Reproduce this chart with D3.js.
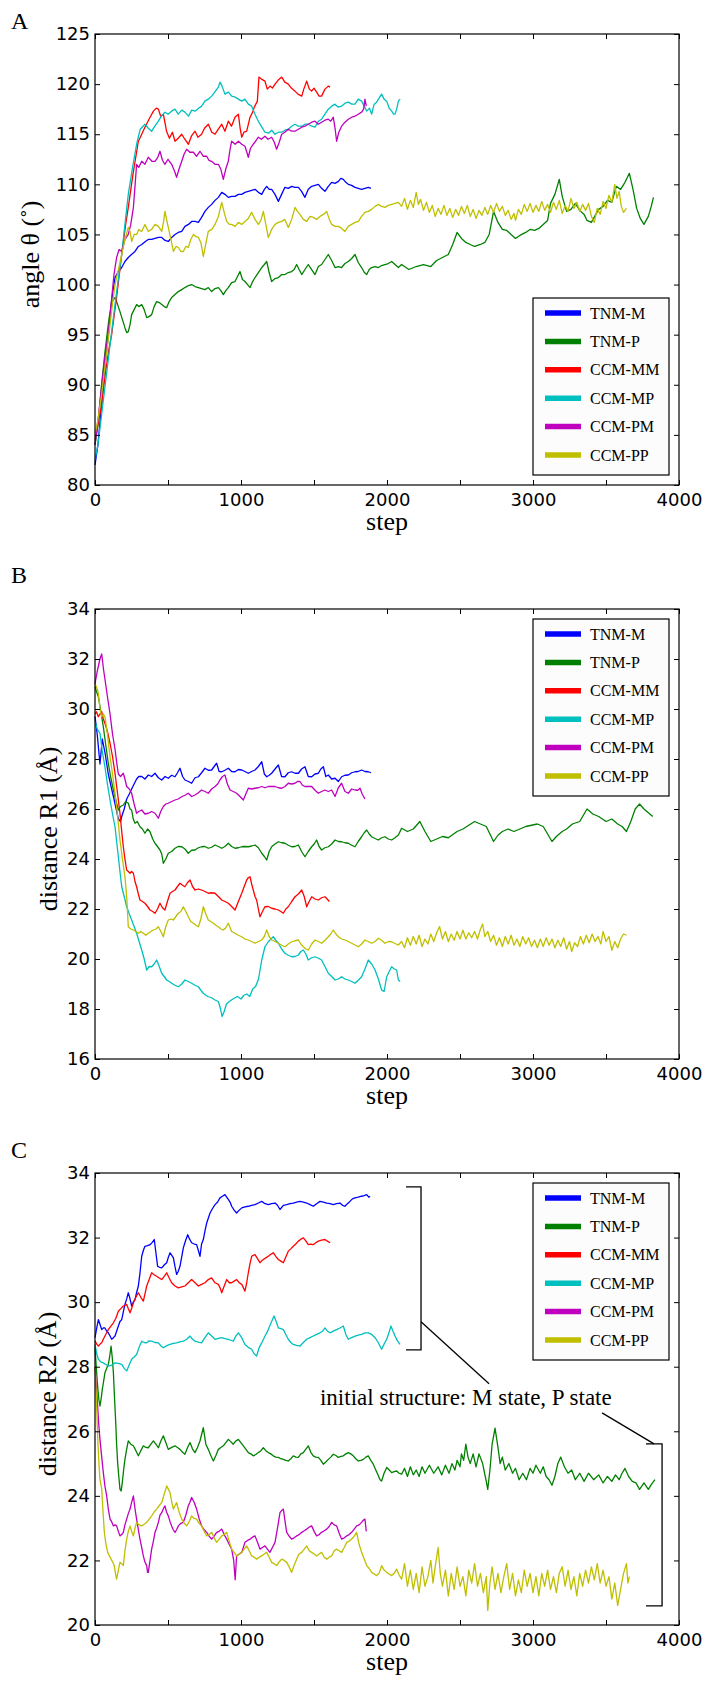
<!DOCTYPE html>
<html><head><meta charset="utf-8">
<script src="https://cdn.jsdelivr.net/npm/d3@7"></script>
<style>body{margin:0;background:#fff}svg{display:block}</style>
</head><body>
<svg id="chart" width="713" height="1686"></svg>
<script>
// ---------------- DATA ----------------
const seriesNames = ["TNM-M","TNM-P","CCM-MM","CCM-MP","CCM-PM","CCM-PP"];
const stepTicks = [0,500,1000,1500,2000,2500,3000,3500,4000];
const stepTickLabels = ["0","","1000","","2000","","3000","","4000"];
const angleTicks = [80,85,90,95,100,105,110,115,120,125];
const r1Ticks = [16,18,20,22,24,26,28,30,32,34];
const r2Ticks = [20,22,24,26,28,30,32,34];

// Panel A: angle theta
const angle_TNM_M = [[0,82],[20,84],[45,88],[70,92],[95,95.5],[115,98.5],[137,100.7],[160,101.3],[183,101.7],[205,102.3],[228,102.7],[250,103],[274,103.3],[297,103.8],[320,104],[345,104.3],[365,104.5],[388,104.5],[411,104.6],[434,104.7],[457,104.7],[480,104.4],[502,104.3],[525,104.7],[548,105],[570,105.2],[594,105.3],[616,105.8],[640,106],[662,106.3],[685,106.3],[708,106.2],[730,106.7],[753,107.3],[776,107.7],[799,108],[822,108.4],[845,108.7],[868,109.2],[890,109],[913,108.7],[936,108.8],[959,108.8],[982,109],[1005,109],[1027,109.2],[1050,109.3],[1073,109.4],[1096,109.5],[1119,109.2],[1142,109],[1160,109.5],[1176,109.8],[1193,109.5],[1210,109.5],[1233,109],[1256,108.3],[1278,109],[1301,109.7],[1324,109.6],[1347,109.8],[1370,109.7],[1393,109.7],[1415,109.3],[1438,108.7],[1461,109.5],[1484,109.8],[1507,109.9],[1530,110],[1552,109.6],[1575,109.3],[1598,109.8],[1621,110.2],[1644,110.1],[1667,110.3],[1684,110.6],[1701,110.5],[1718,110.2],[1735,110],[1758,109.9],[1781,109.7],[1803,109.6],[1826,109.5],[1849,109.6],[1872,109.7],[1890,109.6]];
const angle_TNM_P = [[0,84],[20,86],[45,90],[70,93.5],[95,96.5],[115,98.3],[137,98.7],[155,98],[171,97.3],[188,96.5],[205,95.7],[218,95.2],[228,95.3],[240,96],[251,97],[268,97.5],[285,98],[300,97.8],[320,98],[337,97.5],[354,96.7],[370,96.8],[388,97],[405,97.8],[422,98.3],[440,98.2],[457,98],[474,97.8],[491,97.7],[508,98.3],[525,98.7],[548,99],[571,99.3],[594,99.5],[616,99.7],[640,99.9],[662,100],[685,99.8],[708,99.7],[730,99.6],[753,99.5],[776,99.7],[799,99.3],[822,99.6],[845,99.7],[862,99.4],[879,99],[896,99.4],[913,99.7],[936,100.2],[959,100.3],[976,100.8],[993,101.3],[1010,100.5],[1027,100.3],[1045,100],[1062,99.7],[1080,100.3],[1096,100.7],[1119,101.2],[1142,101.7],[1160,102],[1176,102.3],[1193,101.2],[1210,100.3],[1233,100.6],[1256,100.7],[1279,101],[1301,101],[1324,101.2],[1347,101.3],[1364,101.5],[1381,102],[1398,101.5],[1416,101],[1438,101.5],[1461,102],[1484,101.5],[1507,101],[1530,101.8],[1552,102],[1575,102.5],[1598,103],[1621,102.4],[1644,101.7],[1667,101.8],[1689,101.7],[1712,102.1],[1735,102.3],[1758,102.6],[1781,103],[1803,102.2],[1826,101.7],[1845,101.2],[1861,101],[1878,101.5],[1895,101.7],[1918,101.8],[1941,101.7],[1963,101.9],[1986,102],[2009,102.1],[2032,102.3],[2055,102],[2078,101.7],[2100,102],[2150,101.5],[2200,101.8],[2250,102],[2300,101.8],[2340,102.4],[2380,102.7],[2420,103],[2450,104],[2480,105.2],[2510,104.6],[2540,104.2],[2570,104],[2600,103.8],[2640,104],[2670,104.2],[2700,105],[2730,107.3],[2760,106.2],[2790,105.5],[2820,105.4],[2850,105],[2880,104.6],[2910,104.9],[2950,105.2],[2980,105.5],[3010,105.4],[3040,105.6],[3070,106],[3100,106.4],[3120,108.1],[3150,109],[3180,110.5],[3200,108.8],[3230,107.3],[3260,107.5],[3290,108.1],[3320,107.4],[3350,107],[3370,106.4],[3400,106.2],[3430,107],[3450,107.5],[3480,107.8],[3510,108.4],[3540,108.2],[3570,109.8],[3600,109.5],[3630,110.2],[3660,111.1],[3685,109.5],[3710,107.6],[3735,106.6],[3760,106],[3790,106.8],[3810,107.8],[3825,108.7]];
const angle_CCM_MM = [[0,84.5],[20,86],[45,88],[70,91],[95,93.5],[114,95],[150,99],[183,103],[210,106],[228,107.7],[260,111],[297,114.3],[320,115],[342,115.7],[370,116.5],[400,117.3],[420,117.6],[434,117.5],[450,116.8],[468,117],[490,115.3],[510,114.6],[530,115.2],[548,114.3],[570,114.6],[594,115],[615,114.5],[640,114],[660,114.8],[685,115.3],[705,114.7],[730,115],[750,115.6],[776,116],[800,115.2],[822,115],[845,115.5],[868,116],[890,115.3],[913,116.3],[935,115.8],[959,116.7],[982,117],[995,115.5],[1005,114.7],[1020,115.2],[1039,115.3],[1062,116.7],[1080,117.2],[1091,117.7],[1112,118.3],[1123,120.7],[1140,120.5],[1164,120.3],[1180,119.5],[1199,119.8],[1215,119.6],[1233,120],[1255,120.4],[1279,120.7],[1300,120.2],[1324,120],[1345,119.6],[1370,119.3],[1390,119],[1416,118.8],[1430,119.5],[1450,120.3],[1468,119.5],[1484,119.3],[1500,119.6],[1518,119.2],[1535,118.8],[1552,118.8],[1575,119.5],[1598,119.8],[1610,119.7]];
const angle_CCM_MP = [[0,82.5],[20,84],[45,87],[70,90],[95,93],[120,96],[150,99.5],[183,103],[205,106],[228,109],[255,111.5],[285,114],[310,115.5],[342,116],[365,115.6],[388,115.3],[410,115.8],[434,116.3],[455,116.8],[479,117.2],[500,117],[525,117.3],[548,117.5],[570,117],[594,117.4],[616,117.2],[640,116.8],[662,117.4],[685,117.3],[710,117.6],[730,117.8],[753,118.3],[776,118.5],[799,118.8],[825,119.3],[845,119.7],[856,120.2],[870,119.8],[890,119],[913,119.2],[936,118.8],[960,118.7],[982,118.5],[1005,118.3],[1027,118.5],[1050,118],[1073,117.8],[1096,117],[1112,116.5],[1130,116],[1147,115.6],[1164,115.2],[1190,115.1],[1210,115.4],[1233,115],[1256,115.2],[1279,115.2],[1301,115.4],[1324,115.5],[1347,115.8],[1370,116],[1393,115.8],[1416,115.8],[1438,116],[1461,116],[1484,115.8],[1507,115.7],[1530,116.3],[1552,116.5],[1575,117],[1598,117.5],[1621,117.8],[1644,118],[1666,117.7],[1689,117.8],[1712,118.1],[1735,118.2],[1758,118],[1781,118],[1803,118.5],[1826,118.3],[1845,117.8],[1861,117.3],[1880,117.6],[1895,117],[1912,118],[1929,118.2],[1946,118.6],[1963,119],[1980,118.5],[1998,118.3],[2015,117.6],[2032,117.3],[2045,117],[2055,117],[2068,117.6],[2078,118.3],[2090,118.5]];
const angle_CCM_PM = [[0,84],[25,87],[50,90.5],[70,93],[91,95],[110,98],[130,101],[148,102.7],[165,103.5],[183,103.3],[205,104.5],[228,105],[245,106],[263,107.7],[275,110],[285,112],[300,111.7],[320,112.3],[342,112],[365,112.7],[390,112.3],[411,112.3],[430,112.7],[445,113.3],[462,112.4],[479,112],[500,112.5],[525,112],[545,111.3],[559,110.7],[575,111.5],[594,112.3],[610,113],[628,113.5],[650,113.2],[674,113.2],[695,112.8],[719,113.3],[742,112.8],[765,112.8],[780,112.4],[799,112.3],[822,112],[845,112],[862,111.5],[879,110.5],[895,111.5],[913,112.3],[925,113.5],[936,114.3],[960,114],[982,114.3],[1005,114],[1027,113.8],[1040,113.2],[1050,112.7],[1065,113.6],[1084,114],[1100,114.3],[1119,114.7],[1140,114.5],[1164,114.8],[1185,114.5],[1210,114.7],[1228,114.2],[1244,113.5],[1262,114.2],[1279,115],[1300,115.2],[1324,115.5],[1347,115.3],[1370,115.3],[1393,115.5],[1416,115.7],[1438,115.8],[1461,116],[1484,116.2],[1507,116.3],[1530,116],[1552,116.2],[1575,116.4],[1598,116.5],[1615,116.3],[1632,116.7],[1645,115.5],[1655,114.3],[1670,115.2],[1689,115.8],[1712,116.2],[1735,116.5],[1758,116.7],[1781,116.8],[1803,117],[1826,117.2],[1840,117.5],[1849,118.5],[1858,117.8]];
const angle_CCM_PP = [[0,85],[20,86.5],[45,89],[70,92],[95,95],[115,97.5],[137,100],[160,101.5],[183,103],[205,104.5],[228,105.7],[240,105.3],[251,104.3],[268,105],[285,105],[300,105.5],[320,105.3],[342,106],[365,105.3],[388,105.5],[411,106],[434,105.8],[457,105.3],[470,106.3],[479,107.3],[490,106.5],[502,105.7],[520,104.5],[537,103.3],[555,103.8],[571,103.7],[588,103.3],[605,103.3],[622,103.8],[639,103.7],[656,104.5],[674,105],[690,104.8],[708,104.7],[725,104.2],[742,102.8],[758,104],[776,105.3],[800,105.5],[822,106],[845,106.8],[868,108.2],[885,107.2],[902,106.3],[920,106],[936,106],[960,105.8],[982,106.2],[1005,106],[1027,106.3],[1050,106.6],[1073,107.2],[1096,106.5],[1119,106],[1136,106.4],[1153,107.3],[1170,106],[1187,104.7],[1210,105.5],[1233,106],[1256,106.2],[1279,106.3],[1300,106.5],[1324,105.7],[1347,106.5],[1370,107.7],[1387,107.3],[1404,107],[1427,106.5],[1450,106.3],[1473,106.8],[1495,106.7],[1518,106.5],[1541,106.8],[1564,107],[1587,107.3],[1605,106.5],[1621,106],[1644,105.8],[1667,105.8],[1690,105.6],[1712,105.3],[1735,105.8],[1758,106],[1781,106.2],[1804,106.3],[1826,106.8],[1849,107.2],[1872,107.3],[1895,107.5],[1918,107.8],[1941,108],[1963,107.8],[1986,107.7],[2009,107.9],[2032,108],[2055,108.1],[2078,108.2],[2100,107.8],[2120,108.6],[2140,107.5],[2160,108.4],[2180,107.7],[2200,109.2],[2215,108],[2230,108.5],[2250,107.4],[2270,108.2],[2290,107.2],[2310,107.9],[2330,106.8],[2350,107.6],[2370,107],[2390,107.9],[2410,106.9],[2430,107.6],[2450,106.7],[2470,107.5],[2490,106.9],[2510,107.8],[2530,107.1],[2550,107.9],[2570,106.8],[2590,107.5],[2610,106.6],[2630,107.4],[2650,106.9],[2670,107.7],[2690,107.0],[2710,107.9],[2730,107.2],[2750,108.1],[2770,107.3],[2790,107.8],[2810,106.9],[2830,107.4],[2850,106.5],[2870,107.1],[2880,106.4],[2900,107.5],[2920,107],[2940,108.0],[2960,107.3],[2980,108.1],[3000,107.2],[3020,107.9],[3040,107.3],[3060,108.3],[3080,107.4],[3100,108],[3120,107.2],[3140,108.2],[3160,107.5],[3180,108.4],[3200,107.1],[3220,107.9],[3240,107.3],[3260,108.6],[3280,107.6],[3300,108.2],[3320,107.3],[3340,108],[3360,107.4],[3380,108.1],[3400,106.8],[3420,106.2],[3440,107.6],[3460,107],[3480,108.3],[3500,107.6],[3520,108.9],[3540,108.2],[3560,110],[3575,108.6],[3590,109.3],[3605,107.8],[3620,107.2],[3640,107.6]];

// Panel B: distance R1
const r1_TNM_M = [[0,29.7],[15,29],[34,27.8],[50,28.8],[70,28.2],[91,27.4],[110,26.9],[126,26.5],[145,26],[160,25.6],[175,25.5],[183,25.7],[200,26],[217,26.4],[235,26.6],[251,26.8],[268,27],[285,27.2],[300,27.3],[320,27.3],[342,27.2],[365,27.36],[388,27.3],[411,27.43],[434,27.25],[457,27.16],[480,27.3],[502,27.23],[525,27.35],[548,27.29],[565,27.45],[582,27.63],[600,27.3],[616,27.16],[640,27.1],[662,27.03],[685,27.25],[708,27.29],[730,27.45],[753,27.63],[776,27.55],[799,27.56],[816,27.7],[833,27.83],[850,27.5],[868,27.49],[890,27.55],[913,27.63],[936,27.5],[959,27.49],[982,27.58],[1005,27.56],[1027,27.5],[1050,27.43],[1073,27.5],[1096,27.56],[1119,27.7],[1142,27.89],[1160,27.4],[1176,27.29],[1193,27.35],[1210,27.43],[1233,27.6],[1256,27.76],[1278,27.3],[1301,27.29],[1324,27.45],[1347,27.49],[1370,27.43],[1393,27.43],[1415,27.6],[1438,27.69],[1461,27.3],[1484,27.29],[1507,27.4],[1530,27.43],[1547,27.6],[1564,27.69],[1581,27.3],[1598,27.36],[1621,27.2],[1644,27.23],[1667,27.1],[1689,27.29],[1712,27.35],[1735,27.36],[1758,27.45],[1781,27.49],[1803,27.5],[1826,27.56],[1849,27.5],[1872,27.49],[1890,27.45]];
const r1_TNM_P = [[0,30.9],[10,30.7],[23,30.49],[40,29.9],[57,29.29],[75,28.5],[91,27.83],[110,27.2],[126,26.76],[145,26.3],[160,25.96],[175,26.1],[194,26.16],[210,26.3],[228,26.23],[240,26],[251,25.96],[262,25.6],[274,25.43],[290,25.5],[308,25.29],[325,25.2],[342,25.03],[360,25.2],[377,25.09],[395,24.8],[411,24.63],[428,24.5],[445,24.36],[457,24.2],[468,23.83],[485,24],[502,24.23],[525,24.3],[548,24.43],[570,24.5],[594,24.49],[616,24.4],[639,24.23],[662,24.35],[685,24.36],[708,24.45],[730,24.49],[753,24.5],[776,24.43],[799,24.47],[822,24.56],[845,24.5],[868,24.43],[890,24.5],[913,24.63],[936,24.5],[959,24.43],[982,24.45],[1005,24.49],[1027,24.5],[1050,24.49],[1073,24.52],[1096,24.56],[1119,24.45],[1142,24.23],[1160,24.1],[1176,23.96],[1193,24.3],[1210,24.49],[1233,24.6],[1256,24.69],[1278,24.65],[1301,24.63],[1324,24.55],[1347,24.49],[1370,24.5],[1393,24.56],[1415,24.3],[1438,24.09],[1461,24.3],[1484,24.49],[1501,24.6],[1518,24.76],[1535,24.5],[1552,24.36],[1575,24.45],[1598,24.49],[1621,24.6],[1644,24.76],[1667,24.7],[1689,24.69],[1712,24.65],[1735,24.63],[1758,24.55],[1781,24.49],[1803,24.7],[1826,24.89],[1844,25.05],[1861,25.16],[1878,25],[1895,24.89],[1918,24.82],[1941,24.76],[1963,24.85],[1986,24.89],[2009,24.8],[2032,24.76],[2055,24.85],[2078,24.96],[2100,25.23],[2140,25.1],[2180,25.2],[2225,25.5],[2260,25.1],[2300,24.7],[2340,24.8],[2380,24.9],[2420,24.85],[2480,25.1],[2520,25.2],[2560,25.35],[2600,25.5],[2640,25.4],[2680,25.3],[2730,24.7],[2760,24.95],[2790,25.1],[2830,25.2],[2870,25.1],[2910,25.2],[2950,25.3],[2990,25.35],[3030,25.4],[3070,25.3],[3100,25],[3130,24.7],[3160,24.9],[3200,25.1],[3230,25.2],[3270,25.4],[3320,25.5],[3370,26],[3410,25.8],[3450,25.7],[3500,25.5],[3540,25.6],[3580,25.4],[3610,25.3],[3640,25.1],[3670,25.5],[3700,26],[3730,26.2],[3760,26],[3790,25.85],[3820,25.7]];
const r1_CCM_MM = [[0,29.8],[10,29.89],[23,29.69],[34,29.8],[46,29.89],[57,29.6],[68,29.43],[85,29.1],[103,28.63],[120,28.1],[137,27.43],[155,26.6],[171,25.83],[183,25.1],[194,24.49],[205,24],[217,23.56],[228,23.5],[240,23.43],[251,23.5],[263,23.43],[274,23.1],[285,22.89],[297,22.6],[308,22.36],[325,22.3],[342,22.23],[360,22.1],[377,21.96],[395,21.9],[411,21.83],[428,22],[445,22.23],[462,22.05],[479,21.96],[496,22.3],[514,22.63],[531,22.7],[548,22.76],[565,22.9],[582,23.03],[600,22.95],[616,22.89],[633,23.05],[651,23.16],[668,22.9],[685,22.76],[708,22.8],[730,22.76],[753,22.7],[776,22.63],[799,22.65],[822,22.63],[845,22.5],[868,22.36],[890,22.3],[913,22.23],[936,22.1],[959,21.96],[982,22.3],[1005,22.63],[1022,22.9],[1039,23.16],[1050,23.25],[1062,23.29],[1073,23],[1084,22.76],[1096,22.5],[1107,22.36],[1119,22],[1130,21.69],[1147,21.9],[1164,22.09],[1187,22.1],[1210,22.03],[1233,22],[1256,21.96],[1273,21.9],[1290,21.83],[1307,22],[1324,22.09],[1347,22.3],[1370,22.49],[1393,22.6],[1416,22.76],[1433,22.5],[1450,22.09],[1467,22.3],[1484,22.49],[1507,22.4],[1530,22.36],[1552,22.45],[1575,22.49],[1590,22.4],[1605,22.3]];
const r1_CCM_MP = [[0,29.5],[15,29.2],[34,29.03],[50,28.3],[68,27.69],[85,27],[103,26.36],[120,25.8],[137,25.29],[150,24.6],[160,24.09],[171,23.5],[183,22.89],[200,22.5],[217,22.09],[235,21.8],[251,21.56],[268,21.3],[285,21.03],[302,20.7],[320,20.36],[337,20],[354,19.56],[371,19.7],[388,19.69],[405,19.8],[422,19.96],[440,19.7],[457,19.43],[474,19.3],[491,19.16],[508,19.1],[525,19.03],[548,18.95],[571,18.89],[594,19],[616,19.16],[639,19.1],[662,19.03],[685,18.95],[708,18.89],[725,18.75],[742,18.63],[759,18.55],[776,18.49],[799,18.45],[822,18.36],[845,18.3],[860,18],[870,17.7],[885,17.9],[900,18.2],[920,18.3],[945,18.4],[975,18.5],[1000,18.4],[1020,18.55],[1040,18.6],[1060,18.5],[1080,18.8],[1100,18.9],[1120,19.2],[1142,19.96],[1164,20.49],[1187,20.69],[1205,20.8],[1221,20.89],[1238,20.75],[1256,20.63],[1278,20.4],[1301,20.23],[1324,20.15],[1347,20.09],[1370,20.1],[1393,20.16],[1410,20.3],[1427,20.36],[1444,20.2],[1461,19.96],[1484,20.05],[1507,20.09],[1530,20.03],[1552,19.96],[1575,19.7],[1598,19.43],[1621,19.3],[1644,19.16],[1667,19.2],[1689,19.29],[1712,19.2],[1735,19.16],[1758,19.1],[1781,19.03],[1803,19.15],[1826,19.29],[1849,19.6],[1872,19.96],[1895,19.8],[1918,19.56],[1941,19.2],[1963,18.76],[1980,18.7],[1998,19.29],[2015,19.5],[2032,19.69],[2050,19.6],[2066,19.56],[2078,19.16],[2090,19.1]];
const r1_CCM_PM = [[0,31],[15,31.5],[34,32],[46,32.2],[58,31.6],[68,31.2],[85,30.5],[103,29.8],[120,29],[137,28.4],[150,27.8],[160,27.4],[175,27.3],[194,27.43],[205,27.2],[217,26.9],[235,26.8],[251,26.63],[268,26.2],[285,25.83],[300,25.9],[320,25.96],[342,25.8],[365,25.83],[388,25.9],[411,25.83],[434,25.63],[450,25.9],[468,26.1],[485,26.2],[502,26.23],[525,26.3],[548,26.36],[570,26.4],[594,26.49],[616,26.55],[639,26.63],[662,26.5],[685,26.56],[708,26.65],[730,26.76],[753,26.7],[776,26.63],[799,26.8],[822,26.9],[840,27],[856,27.16],[873,27.3],[890,27.36],[907,27],[925,26.76],[947,26.7],[970,26.63],[993,26.5],[1016,26.36],[1033,26.6],[1050,26.83],[1073,26.8],[1096,26.83],[1119,26.85],[1142,26.9],[1165,26.85],[1187,26.9],[1210,26.9],[1233,26.9],[1256,26.85],[1279,26.83],[1301,26.9],[1324,27.03],[1347,27],[1370,27.03],[1387,27.1],[1404,27.1],[1421,26.95],[1438,26.9],[1461,26.9],[1484,26.9],[1507,26.75],[1530,26.63],[1552,26.7],[1575,26.76],[1598,26.7],[1621,26.76],[1644,26.5],[1667,26.85],[1689,27.03],[1712,26.7],[1735,26.63],[1758,26.8],[1781,26.76],[1800,26.75],[1815,26.83],[1830,26.6],[1849,26.4]];
const r1_CCM_PP = [[0,31],[10,30.89],[23,30.63],[34,30],[46,29.69],[57,29.8],[68,29.69],[85,29],[103,28.09],[120,27.4],[137,26.63],[155,25.7],[171,24.76],[188,24],[205,23.29],[217,22.5],[228,21.29],[245,21.2],[263,21.16],[280,21.1],[297,21.03],[314,21.1],[331,21.03],[348,20.95],[365,21.03],[383,21.1],[400,21.16],[417,21.2],[434,21.29],[451,21.1],[468,20.89],[485,21.3],[502,21.56],[520,21.6],[537,21.56],[554,21.7],[571,21.83],[588,21.9],[605,22.09],[622,21.9],[639,21.69],[656,21.5],[674,21.43],[691,21.35],[708,21.29],[725,21.6],[742,22.09],[759,21.8],[776,21.56],[793,21.5],[811,21.43],[828,21.35],[845,21.29],[862,21.2],[879,21.16],[896,21.25],[913,21.43],[936,21.1],[959,21.03],[982,20.95],[1005,20.89],[1027,20.8],[1050,20.76],[1073,20.7],[1096,20.63],[1119,20.7],[1142,20.76],[1160,20.9],[1176,21.16],[1193,20.9],[1210,20.76],[1233,20.7],[1256,20.63],[1279,20.55],[1301,20.49],[1324,20.6],[1347,20.69],[1370,20.73],[1393,20.76],[1410,20.6],[1427,20.49],[1444,20.4],[1461,20.36],[1484,20.6],[1507,20.76],[1530,20.7],[1552,20.63],[1575,20.75],[1598,20.89],[1615,21],[1632,21.16],[1650,21],[1667,20.89],[1690,20.8],[1712,20.76],[1735,20.7],[1758,20.63],[1781,20.56],[1804,20.49],[1826,20.6],[1849,20.76],[1872,20.7],[1895,20.63],[1918,20.7],[1941,20.83],[1963,20.75],[1986,20.63],[2009,20.7],[2032,20.69],[2055,20.62],[2078,20.56],[2100,20.7],[2120,20.45],[2140,20.85],[2160,20.55],[2180,20.9],[2200,20.6],[2220,20.95],[2240,20.5],[2260,20.8],[2280,20.6],[2300,21.0],[2320,20.7],[2340,21.05],[2360,21.3],[2380,20.8],[2400,21.1],[2420,20.7],[2440,21.0],[2460,20.75],[2480,21.1],[2500,20.8],[2520,21.15],[2540,20.8],[2560,21.05],[2580,20.85],[2600,21.1],[2620,20.8],[2640,21.2],[2655,21.4],[2670,20.9],[2690,21.1],[2710,20.7],[2730,20.95],[2750,20.55],[2770,20.85],[2790,20.5],[2810,20.9],[2830,20.6],[2850,20.95],[2870,20.55],[2890,20.8],[2910,20.5],[2930,20.9],[2950,20.6],[2970,20.85],[2990,20.5],[3010,20.75],[3030,20.45],[3050,20.8],[3070,20.5],[3090,20.85],[3110,20.55],[3130,20.8],[3150,20.45],[3170,20.75],[3190,20.5],[3210,20.85],[3230,20.4],[3250,20.7],[3265,20.3],[3285,20.65],[3305,20.5],[3325,20.9],[3345,20.6],[3365,20.95],[3385,20.65],[3405,21.0],[3425,20.7],[3445,20.9],[3465,20.6],[3480,21.1],[3500,20.7],[3520,20.9],[3540,20.35],[3560,20.7],[3580,20.45],[3600,20.8],[3620,21.0],[3640,20.95]];

// Panel C: distance R2
const r2_TNM_M = [[0,28.9],[12,29.2],[23,29.46],[35,29.3],[46,29.15],[57,29.2],[68,29.2],[80,29.1],[91,29.05],[103,28.95],[114,28.85],[126,28.9],[137,28.95],[148,29.1],[160,29.26],[171,29.4],[183,29.46],[194,29.7],[205,29.93],[217,30.1],[228,30.29],[240,30.1],[251,29.88],[262,30],[274,30.08],[285,30.3],[297,30.5],[308,30.9],[320,31.42],[331,31.6],[342,31.73],[360,31.75],[377,31.78],[392,31.85],[406,31.94],[418,31.5],[429,31.11],[443,31.08],[457,31.06],[474,31.15],[491,31.22],[503,31.4],[514,31.53],[526,31.45],[537,31.37],[548,31.1],[559,30.86],[570,30.95],[582,31.11],[594,31.4],[605,31.68],[620,31.9],[635,32.09],[648,31.95],[662,31.84],[680,31.8],[696,31.78],[708,31.6],[719,31.42],[730,31.8],[742,31.94],[753,32.2],[765,32.45],[776,32.6],[788,32.76],[805,32.9],[822,33.02],[840,33.1],[856,33.23],[873,33.28],[890,33.33],[902,33.25],[913,33.18],[925,33.1],[936,32.97],[953,32.85],[970,32.76],[988,32.85],[1005,32.92],[1027,32.95],[1050,32.97],[1073,33],[1096,33.02],[1119,33.07],[1142,33.12],[1165,33.05],[1187,33.02],[1210,33.05],[1233,33.07],[1250,33],[1267,32.87],[1290,33],[1313,33.02],[1336,33.05],[1358,33.07],[1381,33.1],[1404,33.12],[1427,33.1],[1450,33.07],[1473,33.02],[1495,32.97],[1518,33.05],[1541,33.12],[1564,33.1],[1587,33.07],[1610,33.05],[1632,33.02],[1655,33.05],[1678,33.07],[1695,33.0],[1712,32.97],[1729,33.05],[1746,33.12],[1763,33.2],[1781,33.23],[1803,33.25],[1826,33.28],[1843,33.3],[1861,33.33],[1875,33.25],[1884,33.28]];
const r2_TNM_P = [[0,28.6],[10,27.9],[18,27.4],[26,27],[34,26.78],[42,27],[50,27.3],[59,27.55],[68,27.81],[80,27.95],[91,28.07],[100,28.3],[110,28.64],[118,28.3],[126,27.81],[134,27],[142,26.27],[148,25.6],[155,25.03],[163,24.6],[171,24.21],[179,24.15],[187,24.41],[196,24.8],[205,25.13],[217,25.45],[228,25.7],[245,25.6],[263,25.55],[280,25.4],[297,25.24],[314,25.4],[331,25.55],[348,25.5],[365,25.49],[383,25.6],[400,25.7],[417,25.6],[434,25.49],[451,25.7],[468,25.86],[485,25.65],[502,25.44],[525,25.5],[548,25.55],[565,25.5],[582,25.44],[600,25.35],[616,25.29],[634,25.5],[651,25.65],[668,25.45],[685,25.34],[702,25.5],[719,25.7],[730,25.9],[742,26.11],[759,25.6],[776,25.44],[793,25.25],[811,25.08],[828,25.25],[845,25.44],[862,25.5],[879,25.55],[896,25.65],[913,25.75],[930,25.68],[947,25.6],[965,25.7],[982,25.75],[999,25.65],[1016,25.55],[1033,25.45],[1050,25.34],[1067,25.3],[1084,25.24],[1101,25.28],[1119,25.34],[1136,25.4],[1153,25.49],[1170,25.4],[1187,25.34],[1204,25.3],[1221,25.24],[1238,25.2],[1256,25.19],[1273,25.15],[1290,25.13],[1307,25.1],[1324,25.08],[1341,25.15],[1358,25.24],[1376,25.2],[1393,25.19],[1410,25.3],[1427,25.34],[1444,25.45],[1461,25.55],[1478,25.35],[1495,25.24],[1512,25.2],[1530,25.19],[1547,25.1],[1564,24.98],[1581,25.05],[1598,25.13],[1615,25.2],[1632,25.29],[1650,25.25],[1667,25.19],[1684,25.22],[1701,25.24],[1718,25.3],[1735,25.34],[1752,25.3],[1769,25.24],[1786,25.15],[1804,25.08],[1821,25.1],[1838,25.13],[1855,25.2],[1872,25.24],[1889,25.1],[1906,24.98],[1923,24.8],[1941,24.62],[1952,24.5],[1963,24.46],[1980,24.7],[1998,24.88],[2015,24.8],[2032,24.72],[2049,24.75],[2066,24.77],[2083,24.7],[2100,24.67],[2120,24.85],[2140,24.6],[2160,24.9],[2180,24.65],[2200,24.8],[2220,24.6],[2240,24.9],[2260,24.7],[2290,24.95],[2320,24.7],[2350,24.9],[2375,24.65],[2400,24.95],[2425,24.7],[2445,25.0],[2465,24.8],[2480,25.1],[2500,24.9],[2510,25.3],[2525,25.1],[2540,25.6],[2555,25.2],[2570,25.0],[2590,25.3],[2610,24.9],[2630,25.3],[2655,25],[2680,24.45],[2690,24.2],[2705,24.8],[2720,25.6],[2740,26.1],[2760,25.5],[2775,25.0],[2790,25.2],[2810,24.8],[2835,25.0],[2860,24.7],[2880,24.85],[2905,24.5],[2930,24.7],[2955,24.5],[2980,24.85],[3000,24.7],[3020,24.95],[3050,24.7],[3070,24.9],[3090,24.6],[3110,24.5],[3130,24.33],[3150,24.6],[3170,25],[3190,25.2],[3215,24.9],[3240,24.7],[3265,24.8],[3290,24.5],[3320,24.7],[3350,24.45],[3380,24.7],[3415,24.5],[3450,24.65],[3480,24.4],[3510,24.6],[3540,24.45],[3565,24.65],[3590,24.5],[3610,24.7],[3630,24.85],[3655,24.6],[3680,24.45],[3705,24.4],[3730,24.2],[3760,24.4],[3790,24.2],[3810,24.35],[3835,24.5]];
const r2_CCM_MM = [[0,28.8],[12,28.7],[23,28.64],[35,28.7],[46,28.74],[57,28.85],[68,28.95],[80,29.05],[91,29.15],[108,29.25],[126,29.36],[143,29.5],[160,29.72],[177,29.8],[194,29.88],[205,29.9],[217,29.93],[228,29.8],[240,29.67],[251,29.8],[263,29.98],[280,30.15],[297,30.29],[314,30.15],[331,30.03],[342,30.25],[354,30.5],[371,30.7],[388,30.91],[405,30.85],[422,30.8],[440,30.75],[457,30.7],[474,30.8],[491,30.91],[508,30.75],[525,30.6],[548,30.5],[571,30.44],[594,30.47],[616,30.5],[639,30.6],[662,30.7],[685,30.6],[708,30.5],[730,30.55],[753,30.6],[776,30.7],[799,30.75],[822,30.6],[845,30.55],[856,30.45],[868,30.29],[885,30.5],[902,30.7],[920,30.6],[936,30.6],[953,30.65],[970,30.7],[988,30.6],[1005,30.55],[1016,30.45],[1027,30.34],[1039,30.6],[1050,30.91],[1062,31.2],[1073,31.42],[1084,31.45],[1096,31.47],[1113,31.35],[1130,31.22],[1142,31.28],[1153,31.32],[1170,31.37],[1187,31.42],[1204,31.48],[1221,31.53],[1238,31.42],[1256,31.32],[1273,31.27],[1290,31.22],[1307,31.4],[1324,31.58],[1341,31.65],[1358,31.73],[1375,31.8],[1393,31.89],[1410,31.95],[1427,31.99],[1444,31.9],[1461,31.78],[1478,31.8],[1495,31.78],[1512,31.84],[1530,31.89],[1552,31.92],[1575,31.94],[1592,31.89],[1610,31.84]];
const r2_CCM_MP = [[0,28.7],[12,28.4],[23,28.23],[40,28.15],[57,28.12],[74,28.07],[91,28.02],[114,28.05],[137,28.12],[160,28.1],[183,28.07],[200,27.95],[217,27.87],[234,28.05],[251,28.23],[268,28.3],[285,28.38],[302,28.6],[320,28.79],[337,28.75],[354,28.74],[371,28.8],[388,28.79],[411,28.75],[434,28.74],[451,28.65],[468,28.59],[491,28.65],[514,28.69],[537,28.72],[559,28.74],[582,28.77],[605,28.79],[628,28.85],[651,28.95],[668,28.85],[685,28.79],[708,28.76],[730,28.74],[753,28.9],[776,29.05],[799,28.95],[822,28.85],[845,28.88],[868,28.9],[890,28.87],[913,28.85],[930,28.82],[947,28.79],[965,28.95],[982,29.05],[1005,28.9],[1027,28.69],[1050,28.6],[1073,28.54],[1090,28.4],[1107,28.33],[1125,28.6],[1142,28.74],[1165,28.95],[1187,29.15],[1205,29.35],[1226,29.57],[1241,29.4],[1256,29.2],[1273,29.18],[1290,29.15],[1307,29],[1324,28.85],[1341,28.75],[1358,28.69],[1381,28.66],[1404,28.64],[1427,28.75],[1450,28.85],[1473,28.9],[1495,28.95],[1518,29],[1541,29.05],[1558,29.1],[1575,29.2],[1592,29.1],[1610,29.05],[1632,29.1],[1655,29.15],[1678,29.2],[1701,29.26],[1718,29.0],[1735,28.85],[1758,28.9],[1781,28.95],[1803,28.98],[1826,29.0],[1849,29.05],[1872,29.05],[1895,29.0],[1918,28.9],[1940,28.75],[1963,28.54],[1980,28.7],[1998,28.85],[2013,29.05],[2027,29.26],[2041,29.1],[2055,28.95],[2072,28.8],[2089,28.69]];
const r2_CCM_PM = [[0,28],[9,27.4],[18,26.78],[26,26.2],[34,25.75],[46,25.2],[57,24.72],[68,24.3],[80,24],[91,23.6],[103,23.28],[114,23.2],[126,23.07],[137,23.1],[148,23.07],[160,22.9],[171,22.76],[183,22.8],[194,22.87],[205,23.1],[217,23.28],[228,23.45],[240,23.59],[251,23.8],[263,24],[274,23.6],[285,23.28],[297,22.95],[308,22.66],[320,22.4],[331,22.14],[342,21.95],[354,21.84],[360,21.63],[365,21.63],[377,22],[388,22.35],[400,22.6],[411,22.87],[422,23],[434,23.18],[445,23.4],[457,23.48],[468,23.6],[479,23.69],[490,23.5],[502,23.38],[514,23.2],[525,23.07],[536,22.95],[548,22.87],[559,22.95],[571,23.07],[588,23.15],[605,23.18],[622,23.4],[639,23.69],[650,23.8],[662,23.95],[679,23.8],[696,23.59],[713,23.3],[730,23.07],[748,22.95],[765,22.87],[782,22.75],[799,22.66],[816,22.75],[833,22.87],[850,22.9],[868,22.97],[885,22.8],[902,22.66],[919,22.5],[936,22.35],[950,22],[960,21.4],[970,22.14],[988,22.2],[1005,22.25],[1016,22.4],[1027,22.56],[1045,22.62],[1062,22.66],[1079,22.72],[1096,22.76],[1113,22.56],[1130,22.35],[1147,22.4],[1164,22.45],[1181,22.35],[1198,22.25],[1215,22.4],[1233,22.56],[1250,23],[1267,23.48],[1279,23.55],[1290,23.59],[1302,23.2],[1313,22.87],[1330,22.75],[1347,22.66],[1364,22.7],[1381,22.76],[1398,22.8],[1416,22.87],[1433,22.92],[1450,22.97],[1467,23.03],[1484,23.07],[1501,22.9],[1518,22.76],[1535,22.8],[1552,22.87],[1570,22.92],[1587,22.97],[1604,23.05],[1621,23.18],[1638,23.1],[1655,23.07],[1672,22.85],[1689,22.66],[1707,22.7],[1724,22.76],[1741,22.8],[1758,22.87],[1775,22.97],[1792,23.07],[1809,23.1],[1826,23.18],[1838,23.25],[1849,23.28],[1858,22.9]];
const r2_CCM_PP = [[0,28],[5,27.61],[11,26.8],[19,25.75],[27,25],[34,24.5],[46,24.21],[55,23.5],[64,22.87],[75,22.5],[87,22.25],[98,22.15],[110,22.04],[121,21.95],[132,21.84],[140,21.6],[148,21.42],[160,21.7],[171,21.94],[183,21.9],[194,21.84],[205,22.3],[217,22.66],[228,22.9],[240,23.07],[251,22.9],[263,22.76],[274,23],[285,23.18],[302,23.1],[320,23.07],[337,23.12],[354,23.18],[371,23.28],[388,23.38],[405,23.5],[422,23.59],[440,23.7],[457,23.79],[474,24.05],[491,24.31],[503,24.2],[514,24.1],[526,23.8],[537,23.59],[548,23.7],[559,23.79],[576,23.5],[594,23.28],[611,23.15],[628,23.07],[645,23.2],[662,23.38],[679,23.3],[696,23.28],[713,23.15],[730,23.07],[748,22.9],[765,22.76],[782,22.8],[799,22.87],[816,22.7],[833,22.56],[850,22.65],[868,22.76],[885,22.8],[902,22.87],[919,22.6],[936,22.35],[953,22.25],[970,22.14],[988,22.2],[1005,22.25],[1022,22.35],[1039,22.45],[1056,22.3],[1073,22.14],[1090,22.1],[1107,22.04],[1125,22.1],[1142,22.14],[1159,22.2],[1176,22.25],[1193,22.1],[1210,21.94],[1227,21.9],[1244,21.84],[1261,21.95],[1279,22.04],[1296,22],[1313,21.94],[1330,21.8],[1347,21.63],[1364,21.85],[1381,22.04],[1398,22.2],[1416,22.25],[1433,22.35],[1450,22.45],[1467,22.3],[1484,22.25],[1501,22.2],[1518,22.14],[1535,22.2],[1552,22.25],[1570,22.1],[1587,22.04],[1604,22.1],[1621,22.14],[1638,22.3],[1655,22.35],[1672,22.3],[1689,22.25],[1707,22.4],[1724,22.56],[1741,22.6],[1758,22.66],[1775,22.75],[1792,22.87],[1809,22.5],[1826,22.25],[1843,22.05],[1861,21.84],[1878,21.75],[1895,21.63],[1912,21.58],[1929,21.53],[1946,21.6],[1963,21.84],[1980,21.7],[1998,21.63],[2015,21.58],[2032,21.53],[2049,21.6],[2066,21.73],[2083,21.55],[2100,21.42],[2120,21.9],[2140,21.2],[2160,21.7],[2180,21.1],[2200,21.6],[2220,21.0],[2240,21.8],[2260,21.2],[2280,21.5],[2300,22.0],[2315,21.3],[2330,21.8],[2350,22.4],[2365,21.6],[2380,21.2],[2400,21.7],[2420,20.9],[2440,21.6],[2460,21.1],[2480,21.8],[2500,21.2],[2520,21.5],[2540,20.9],[2560,21.7],[2580,21.3],[2600,21.9],[2620,21.2],[2640,21.6],[2660,21.0],[2680,21.5],[2690,20.45],[2705,21.3],[2720,21.8],[2740,21.1],[2760,21.6],[2780,21.0],[2800,21.5],[2820,21.9],[2840,21.1],[2860,21.6],[2880,20.9],[2900,21.4],[2920,21.0],[2940,21.7],[2960,21.2],[2980,21.6],[3000,21.0],[3020,21.5],[3040,20.9],[3060,21.6],[3080,21.2],[3100,21.7],[3120,21.1],[3140,21.5],[3160,21.0],[3180,21.6],[3200,21.8],[3220,21.2],[3240,21.7],[3260,21.1],[3280,21.5],[3300,20.9],[3320,21.6],[3340,21.2],[3360,21.7],[3380,21.3],[3400,21.8],[3420,21.4],[3440,21.9],[3460,21.3],[3480,21.7],[3500,21.2],[3520,21.5],[3540,20.8],[3560,21.3],[3580,20.6],[3600,21.1],[3620,21.6],[3640,21.9],[3650,21.3],[3660,21.5]];

// ---------------- STYLE / LAYOUT ----------------
const colors = ["#0000ff","#008000","#ff0000","#00bfbf","#bf00bf","#bfbf00"];
const SANS = "'DejaVu Sans', sans-serif";
const SERIF = "'Liberation Serif', 'Times New Roman', serif";
const svg = d3.select("#chart");
const X0 = 95, X1 = 679;
const x = d3.scaleLinear().domain([0, 4000]).range([X0, X1]);

const panels = [
  {letter:"A", letterY:29, top:34, bottom:485, domain:[80,125], ticks:angleTicks, ylabel:"angle θ (˚)", ylabelX:39,
   series:[angle_TNM_M,angle_TNM_P,angle_CCM_MM,angle_CCM_MP,angle_CCM_PM,angle_CCM_PP], legendPos:"bottom"},
  {letter:"B", letterY:583, top:609, bottom:1059, domain:[16,34], ticks:r1Ticks, ylabel:"distance R1 (Å)", ylabelX:57,
   series:[r1_TNM_M,r1_TNM_P,r1_CCM_MM,r1_CCM_MP,r1_CCM_PM,r1_CCM_PP], legendPos:"top"},
  {letter:"C", letterY:1158, top:1173, bottom:1625, domain:[20,34], ticks:r2Ticks, ylabel:"distance R2 (Å)", ylabelX:56,
   series:[r2_TNM_M,r2_TNM_P,r2_CCM_MM,r2_CCM_MP,r2_CCM_PM,r2_CCM_PP], legendPos:"top"}
];

panels.forEach(p => {
  const y = d3.scaleLinear().domain(p.domain).range([p.bottom, p.top]);
  p.y = y;
  const g = svg.append("g");

  g.append("text").attr("x", 11).attr("y", p.letterY).text(p.letter)
    .style("font-family", SERIF).style("font-size", "24px").attr("fill", "#000");

  const line = d3.line().x(d => x(d[0])).y(d => y(d[1]));
  p.series.forEach((s, i) => {
    g.append("path").datum(s).attr("d", line)
      .attr("fill", "none").attr("stroke", colors[i])
      .attr("stroke-width", 1.3).attr("stroke-linejoin", "round");
  });

  const fmtX = d => stepTickLabels[stepTicks.indexOf(d)];
  const axB = g.append("g").attr("transform", `translate(0,${p.bottom})`)
    .call(d3.axisBottom(x).tickValues(stepTicks).tickFormat(fmtX).tickSizeInner(-5).tickSizeOuter(0).tickPadding(8));
  const axT = g.append("g").attr("transform", `translate(0,${p.top})`)
    .call(d3.axisTop(x).tickValues(stepTicks).tickFormat("").tickSizeInner(-5).tickSizeOuter(0));
  const axL = g.append("g").attr("transform", `translate(${X0},0)`)
    .call(d3.axisLeft(y).tickValues(p.ticks).tickFormat(d3.format("d")).tickSizeInner(-5).tickSizeOuter(0).tickPadding(5));
  const axR = g.append("g").attr("transform", `translate(${X1},0)`)
    .call(d3.axisRight(y).tickValues(p.ticks).tickFormat("").tickSizeInner(-5).tickSizeOuter(0));
  [axB, axT, axL, axR].forEach(a => {
    a.select(".domain").remove();
    a.selectAll(".tick line").attr("stroke", "#000").attr("stroke-width", 1);
    a.selectAll("text").style("font-family", SANS).style("font-size", "18px").attr("fill", "#000");
  });

  g.append("rect").attr("x", X0).attr("y", p.top).attr("width", X1 - X0).attr("height", p.bottom - p.top)
    .attr("fill", "none").attr("stroke", "#000").attr("stroke-width", 1.2);

  g.append("text").attr("x", (X0 + X1) / 2).attr("y", p.bottom + 45).attr("text-anchor", "middle")
    .text("step").style("font-family", SERIF).style("font-size", "26px").attr("fill", "#000");
  const cy = (p.top + p.bottom) / 2 - 5;
  g.append("text").attr("transform", `translate(${p.ylabelX},${cy}) rotate(-90)`).attr("text-anchor", "middle")
    .text(p.ylabel).style("font-family", SERIF).style("font-size", "26px").attr("fill", "#000");

  const lw = 136, lh = 177;
  const lx = X1 - 10 - lw;
  const ly = p.legendPos === "top" ? p.top + 10 : p.bottom - 10 - lh;
  const lg = g.append("g");
  lg.append("rect").attr("x", lx).attr("y", ly).attr("width", lw).attr("height", lh)
    .attr("fill", "#fcfcfc").attr("stroke", "#000").attr("stroke-width", 1.2);
  seriesNames.forEach((n, i) => {
    const ey = ly + 15 + i * 28.4;
    lg.append("line").attr("x1", lx + 12).attr("x2", lx + 48).attr("y1", ey).attr("y2", ey)
      .attr("stroke", colors[i]).attr("stroke-width", 5.5);
    lg.append("text").attr("x", lx + 57).attr("y", ey).attr("dy", "0.35em").text(n)
      .style("font-family", SERIF).style("font-size", "16px").attr("fill", "#000");
  });
});

// annotation in panel C (positions given in data units, mapped by the scales)
const yC = panels[2].y;
const ann = svg.append("g").attr("fill", "none").attr("stroke", "#000").attr("stroke-width", 1.3);
const br1 = {x0:2130, x1:2233, v0:33.57, v1:28.52};
const br2 = {x0:3774, x1:3884, v0:25.61, v1:20.59};
[br1, br2].forEach(b => {
  ann.append("path").attr("d", `M${x(b.x0)},${yC(b.v0)}H${x(b.x1)}V${yC(b.v1)}H${x(b.x0)}`);
});
ann.append("line").attr("x1", x(2233)).attr("y1", yC(29.39)).attr("x2", x(2699)).attr("y2", yC(27.47));
ann.append("line").attr("x1", x(3473)).attr("y1", yC(26.57)).attr("x2", x(3829)).attr("y2", yC(25.61));
svg.append("text").attr("x", x(1541)).attr("y", yC(26.82)).text("initial structure: M state, P state")
  .style("font-family", SERIF).style("font-size", "23px").attr("fill", "#000");
</script>
</body></html>
